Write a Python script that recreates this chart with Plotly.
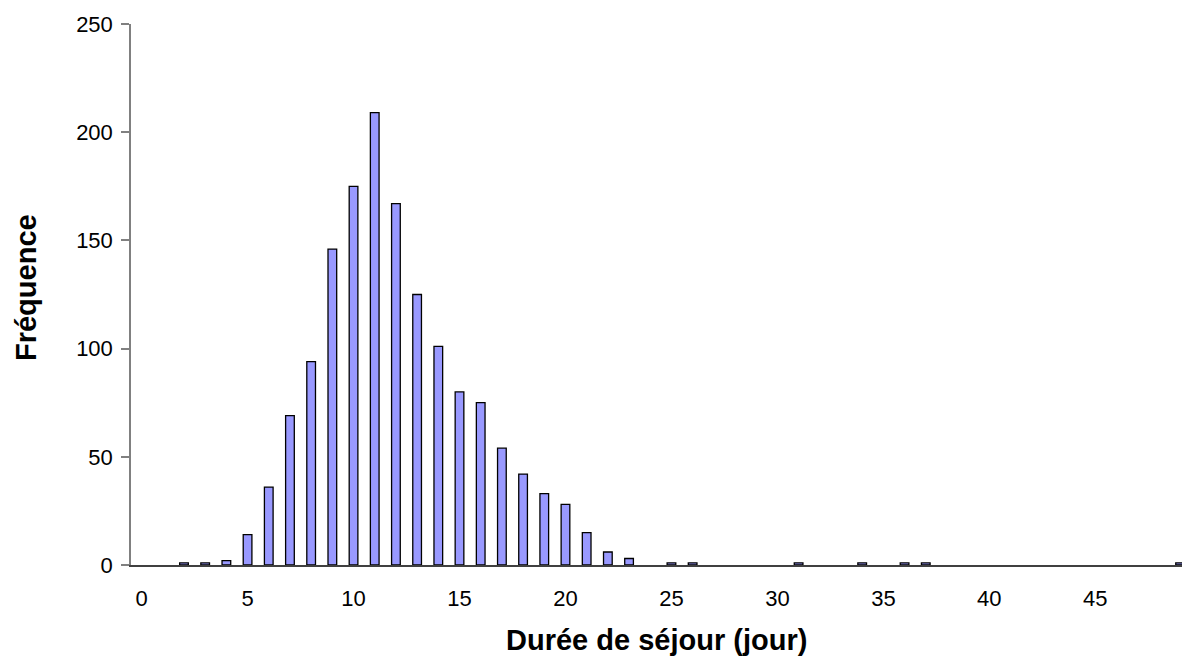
import plotly.graph_objects as go

durations = [2, 3, 4, 5, 6, 7, 8, 9, 10, 11, 12, 13, 14, 15, 16, 17, 18, 19, 20,
             21, 22, 23, 25, 26, 31, 34, 36, 37, 49]
frequencies = [1, 1, 2, 14, 36, 69, 94, 146, 175, 209, 167, 125, 101, 80, 75, 54,
               42, 33, 28, 15, 6, 3, 1, 1, 1, 1, 1, 1, 1]
x_ticks = [0, 5, 10, 15, 20, 25, 30, 35, 40, 45]
y_ticks = [0, 50, 100, 150, 200, 250]
x_title = "Durée de séjour (jour)"
y_title = "Fréquence"

fig = go.Figure(go.Bar(
    x=durations, y=frequencies, width=0.41,
    marker=dict(color="#9999FF", line=dict(color="#000000", width=1.3)),
))

font = "Liberation Sans, Arial, sans-serif"
fig.update_layout(
    width=1182, height=659,
    margin=dict(l=131, r=0, t=24, b=94),
    plot_bgcolor="white", paper_bgcolor="white",
    showlegend=False,
    font=dict(family=font, size=22, color="#000000"),
    xaxis=dict(range=[-0.5, 49.09], tickvals=x_ticks, showgrid=False, zeroline=False,
               showline=True, linecolor="#404040", linewidth=1.5, ticks="",
               tickfont=dict(size=22), ticklabelstandoff=13),
    yaxis=dict(range=[0, 250], tickvals=y_ticks, showgrid=False, zeroline=False,
               showline=True, linecolor="#808080", linewidth=1.5, ticks="outside",
               ticklen=8, tickcolor="#808080", tickwidth=1.5,
               tickfont=dict(size=22), ticklabelstandoff=4),
    annotations=[
        dict(text="<b>%s</b>" % x_title, xref="paper", yref="paper", x=0.5, y=-0.1386,
             xanchor="center", yanchor="middle", showarrow=False, font=dict(size=29)),
        dict(text="<b>%s</b>" % y_title, xref="paper", yref="paper", x=-0.0999, y=0.512,
             xanchor="center", yanchor="middle", textangle=-90, showarrow=False,
             font=dict(size=29)),
    ],
)
fig.write_html("out.html", config={"displayModeBar": False},
               post_script="document.body.style.margin='0';document.body.style.overflow='hidden';")
